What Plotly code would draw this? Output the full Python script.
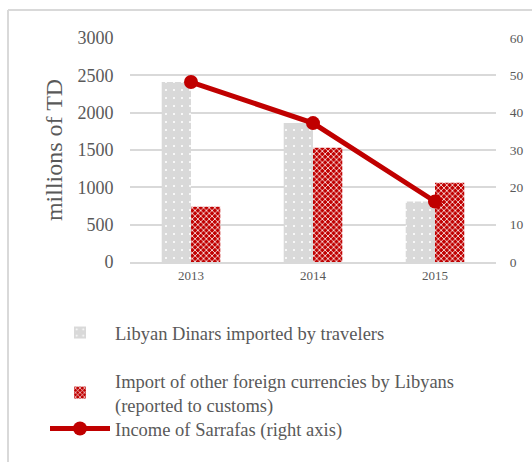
import plotly.graph_objects as go

years = ["2013", "2014", "2015"]
dinars_imported = [2410, 1860, 810]          # millions of TD, left axis
other_currencies = [740, 1530, 1060]         # millions of TD, left axis
sarrafa_income = [48.2, 37.2, 16.2]          # right axis

left_ticks = [0, 500, 1000, 1500, 2000, 2500, 3000]
right_ticks = [0, 10, 20, 30, 40, 50, 60]

W, H = 532, 462
L, R, T, B = 130, 36, 38, 200
pw, ph = W - L - R, H - T - B


def px_x(p):
    return (p - L) / pw


def px_y(p):
    return (H - B - p) / ph


FONT = "Liberation Serif"
GREY_TXT = "#595959"
RED = "#c00000"

fig = go.Figure()
fig.add_trace(go.Bar(
    x=years, y=dinars_imported,
    name="Libyan Dinars imported by travelers",
    marker=dict(color="#d9d9d9", line=dict(width=0),
                pattern=dict(shape=".", fgcolor="white", bgcolor="#d9d9d9",
                             size=8, solidity=0.06, fillmode="replace")),
    legend="legend",
))
fig.add_trace(go.Bar(
    x=years, y=other_currencies,
    name="Import of other foreign currencies by Libyans<br>(reported to customs)",
    marker=dict(color=RED, line=dict(width=0),
                pattern=dict(shape="x", fgcolor="white", bgcolor=RED,
                             size=4, solidity=0.35, fillmode="replace")),
    legend="legend2",
))
fig.add_trace(go.Scatter(
    x=years, y=sarrafa_income, yaxis="y2",
    name="Income of Sarrafas (right axis)",
    mode="lines+markers",
    line=dict(color=RED, width=5),
    marker=dict(color=RED, size=14),
    legend="legend3",
))


def legend_at(top_px):
    return dict(x=px_x(45), y=px_y(top_px), xanchor="left", yanchor="top",
                font=dict(family=FONT, size=18.5, color=GREY_TXT),
                itemwidth=60, bgcolor="rgba(0,0,0,0)")


fig.update_layout(
    width=W, height=H,
    margin=dict(l=L, r=R, t=T, b=B, autoexpand=False),
    paper_bgcolor="white", plot_bgcolor="white",
    font=dict(family=FONT, color=GREY_TXT),
    barmode="group", bargap=0.52, bargroupgap=0,
    xaxis=dict(tickfont=dict(family=FONT, size=13, color=GREY_TXT), showgrid=False,
               showline=True, linecolor="#d9d9d9", linewidth=2, ticks=""),
    yaxis=dict(range=[0, 3000], tickvals=left_ticks,
               tickfont=dict(family=FONT, size=18, color=GREY_TXT),
               gridcolor="#d9d9d9", gridwidth=2, zeroline=False,
               ticks="outside", ticklen=12, tickcolor="white",
               title=dict(text="millions of TD",
                          font=dict(family=FONT, size=24, color=GREY_TXT),
                          standoff=8)),
    yaxis2=dict(range=[0, 60], tickvals=right_ticks, overlaying="y", side="right",
                tickfont=dict(family=FONT, size=13.5, color=GREY_TXT), showgrid=False,
                zeroline=False, ticks="outside", ticklen=10, tickcolor="white"),
    legend=legend_at(314),
    legend2=legend_at(362),
    legend3=legend_at(410),
    showlegend=True,
    shapes=[
        dict(type="line", xref="paper", yref="paper",
             x0=px_x(8), x1=px_x(8), y0=px_y(10), y1=px_y(H),
             line=dict(color="#d9d9d9", width=2)),
        dict(type="line", xref="paper", yref="paper",
             x0=px_x(8), x1=px_x(W), y0=px_y(10), y1=px_y(10),
             line=dict(color="#d9d9d9", width=2)),
    ],
)

fig.write_html("out.html")
